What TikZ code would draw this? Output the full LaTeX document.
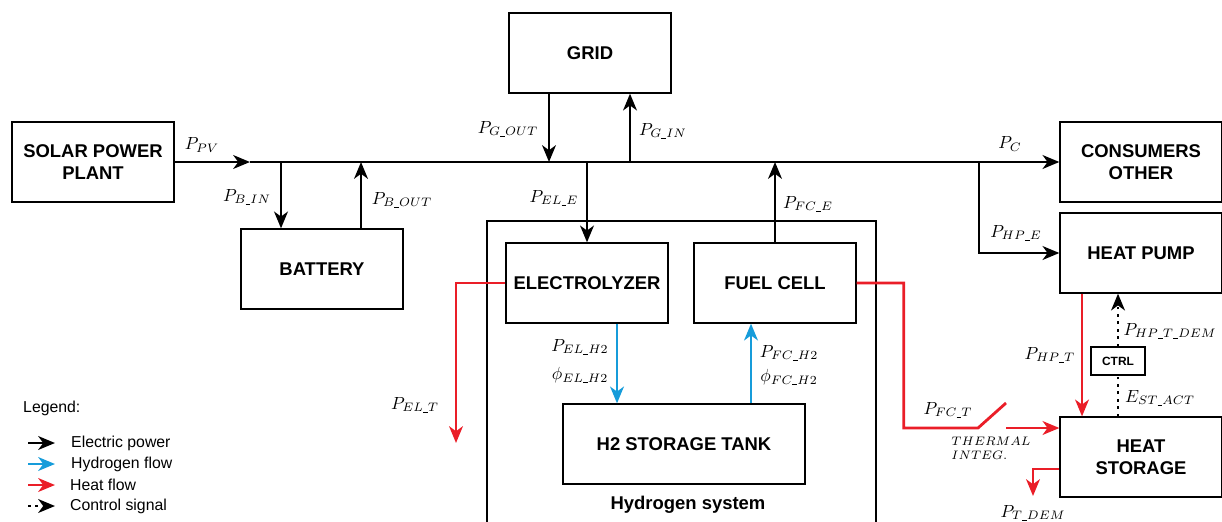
\documentclass[tikz,border=0pt]{standalone}
\usepackage{fontspec}
\setsansfont{Liberation Sans}
\usetikzlibrary{arrows.meta,calc}

\definecolor{heatred}{RGB}{234,30,40}
\definecolor{hydblue}{RGB}{22,156,218}

% short low line used inside the subscripts
\newcommand{\usc}{\mbox{\rule[-0.4pt]{2.8pt}{0.45pt}}}

\tikzset{
  block/.style={draw, line width=0.75pt, minimum width=3.24cm, minimum height=1.6cm,
    align=center, font=\sffamily\bfseries\fontsize{10.5}{12.6}\selectfont},
  elec/.style={line width=1.6pt},
  heat/.style={line width=1.6pt, heatred},
  hyd/.style={line width=1.6pt, hydblue},
  ctrl/.style={line width=1.6pt, dash pattern=on 1.6pt off 2.6pt},
  legtxt/.style={anchor=west, font=\sffamily\fontsize{9}{11}\selectfont},
}

\begin{document}
\begin{tikzpicture}[x=0.02cm, y=-0.02cm, >={Stealth[length=9.5pt,width=7.8pt,inset=2.8pt]}]
    \useasboundingbox (0,0) rectangle (1222,521);

    % Blocks
    \node[block] (grid) at (590,53) {GRID};
    \node[block] (solar) at (93,162) {SOLAR POWER\\PLANT};
    \node[block] (cons) at (1141,162) {CONSUMERS\\OTHER};
    \node[block] (hp) at (1141,253) {HEAT PUMP};
    \node[block] (bat) at (322,269) {BATTERY};
    \node[draw, line width=0.75pt, minimum width=7.78cm, minimum height=6.48cm] (h2sys) at (681.5,383) {};
    \node[font=\sffamily\bfseries\fontsize{10.5}{12.6}\selectfont] (h2lbl) at (688,505) {Hydrogen system};
    \node[block] (el) at (587,283) {ELECTROLYZER};
    \node[block] (fc) at (775,283) {FUEL CELL};
    \node[block, minimum width=4.84cm] (tank) at (684,444) {H2 STORAGE TANK};
    \node[block, minimum width=1.08cm, minimum height=0.56cm, font=\sffamily\bfseries\fontsize{6.8}{8}\selectfont] (ctrl) at (1118,361) {CTRL};
    \node[block] (hs) at (1141,457) {HEAT\\STORAGE};

    % Electric bus
    \coordinate (pvtip) at (250,162);
    \draw[elec,->] (solar.east) -- (pvtip);
    \draw[elec,->] (pvtip) -- (cons.west);
    \node (lPV) at (202,145) {$P_{PV}$};
    \node (lC) at (1010,144) {$P_{C}$};

    % Battery
    \coordinate (jBin) at (281,162);
    \coordinate (jBout) at (361,162);
    \draw[elec,->] (jBin) -- (jBin |- bat.north);
    \draw[elec,->] (jBout |- bat.north) -- (jBout);
    \node (lBin) at (247,197) {$P_{B\usc IN}$};
    \node (lBout) at (402,200) {$P_{B\usc OUT}$};

    % Grid
    \coordinate (jGout) at (549,162);
    \coordinate (jGin) at (630,162);
    \draw[elec,->] (jGout |- grid.south) -- (jGout);
    \draw[elec,->] (jGin) -- (jGin |- grid.south);
    \node (lGout) at (508,129) {$P_{G\usc OUT}$};
    \node (lGin) at (663,131) {$P_{G\usc IN}$};

    % Electrolyzer and fuel cell
    \coordinate (jEL) at (587,162);
    \coordinate (jFC) at (775,162);
    \draw[elec,->] (jEL) -- (el.north);
    \draw[elec,->] (fc.north) -- (jFC);
    \node (lELE) at (554,198) {$P_{EL\usc E}$};
    \node (lFCE) at (808,204) {$P_{FC\usc E}$};

    % Heat pump
    \coordinate (jHP) at (979,162);
    \draw[elec,->] (jHP) |- (hp.west);
    \node (lHPE) at (1016,233) {$P_{HP\usc E}$};

    % Hydrogen
    \coordinate (xEH) at (617,0);
    \coordinate (xFH) at (751,0);
    \draw[hyd,->] (el.south -| xEH) -- (tank.north -| xEH);
    \draw[hyd,->] (tank.north -| xFH) -- (fc.south -| xFH);
    \node (lELH) at (580,347) {$P_{EL\usc H2}$};
    \node (lELphi) at (580,375) {$\phi_{EL\usc H2}$};
    \node (lFCH) at (789,353) {$P_{FC\usc H2}$};
    \node (lFCphi) at (789,377) {$\phi_{FC\usc H2}$};

    % Heat
    \coordinate (elT) at (456,443);
    \draw[heat,->] (el.west) -| (elT);
    \node (lELT) at (415,405) {$P_{EL\usc T}$};
    \coordinate (swA) at (978,428);
    \coordinate (swB) at (1006,403);
    \coordinate (swC) at (1006,428);
    \draw[heat] (fc.east) -- ++(47,0) |- (swA) -- (swB);
    \draw[heat,->] (swC) -- (swC -| hs.west);
    \node (lFCT) at (948,410) {$P_{FC\usc T}$};
    \node[align=left, font=\scriptsize] (integ) at (991,448) {$THERMAL$\\$INTEG.$};
    \coordinate (xHPT) at (1082,0);
    \draw[heat,->] (hp.south -| xHPT) -- (hs.north -| xHPT);
    \node (lHPT) at (1050,355) {$P_{HP\usc T}$};
    \coordinate (tdem) at (1033,496);
    \draw[heat,->] ($(hs.west)+(0,12)$) -| (tdem);
    \node (lTDEM) at (1033,513) {$P_{T\usc DEM}$};

    % Control
    \draw[ctrl] (hs.north -| ctrl) -- (ctrl.south);
    \draw[ctrl,->] (ctrl.north) -- (ctrl.north |- hp.south);
    \node (lEST) at (1160,398) {$E_{ST\usc ACT}$};
    \node (lHPTD) at (1170,331) {$P_{HP\usc T\usc DEM}$};

    % Legend
    \node[legtxt] (legend) at (17,408) {Legend:};
    \node[legtxt] (lgE) at (65,443) {Electric power};
    \node[legtxt] (lgH) at (65,464) {Hydrogen flow};
    \node[legtxt] (lgQ) at (64,485) {Heat flow};
    \node[legtxt] (lgC) at (64,506) {Control signal};
    \draw[elec,->] ($(lgE.west)+(-37,0)$) -- ($(lgE.west)+(-10,0)$);
    \draw[hyd,->] ($(lgH.west)+(-37,0)$) -- ($(lgH.west)+(-10,0)$);
    \draw[heat,->] ($(lgQ.west)+(-36,0)$) -- ($(lgQ.west)+(-9,0)$);
    \draw[ctrl,->] ($(lgC.west)+(-36,0)$) -- ($(lgC.west)+(-9,0)$);
\end{tikzpicture}
\end{document}
